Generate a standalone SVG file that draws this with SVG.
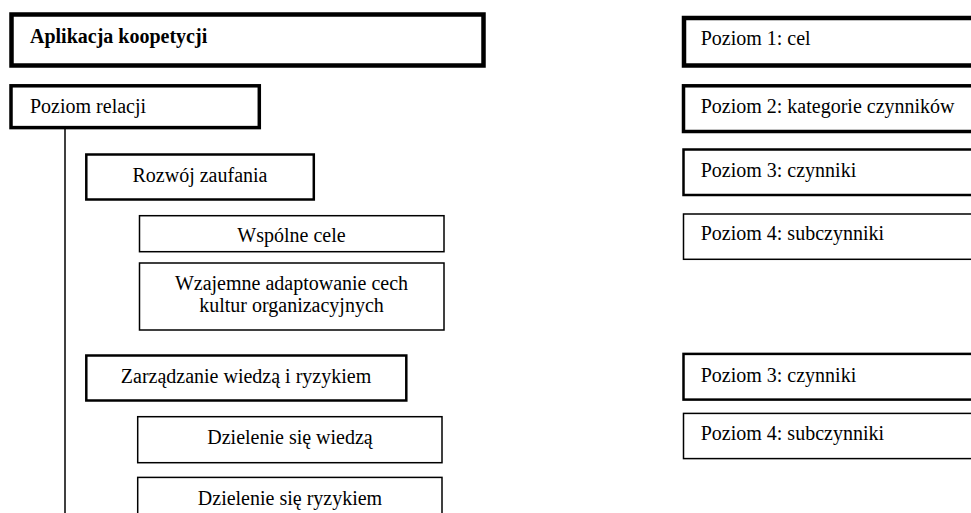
<svg xmlns="http://www.w3.org/2000/svg" width="971" height="513" viewBox="0 0 971 513">
<style>
rect{fill:#fff;stroke:#000}
text{font-family:"Liberation Serif","Times New Roman",serif;font-size:20px;fill:#000}
.c{text-anchor:middle}
.b{font-weight:bold}
.w1{stroke-width:4.5}
.w2{stroke-width:3.5}
.w3{stroke-width:2.5}
.w4{stroke-width:1.5}
</style>
<rect x="0" y="0" width="971" height="513" style="stroke:none"/>
<g id="connectors">
<line x1="65" y1="129" x2="65" y2="513" stroke="#000" stroke-width="1.5"/>
</g>
<g id="n-aplikacja"><rect class="w1" x="11.5" y="14.5" width="472" height="51"/><text class="b" x="30" y="43">Aplikacja koopetycji</text></g>
<g id="n-poziom-relacji"><rect class="w2" x="11" y="85.8" width="248.3" height="41.8"/><text x="30" y="113">Poziom relacji</text></g>
<g id="n-rozwoj"><rect class="w3" x="86.3" y="154.5" width="227.5" height="45"/><text class="c" x="200" y="182">Rozwój zaufania</text></g>
<g id="n-wspolne"><rect class="w4" x="139.5" y="215.7" width="304.5" height="36"/><text class="c" x="291.5" y="242">Wspólne cele</text></g>
<g id="n-wzajemne"><rect class="w4" x="139.5" y="263" width="304.5" height="67"/><text class="c" x="291.5" y="289.5">Wzajemne adaptowanie cech</text><text class="c" x="291.5" y="312">kultur organizacyjnych</text></g>
<g id="n-zarzadzanie"><rect class="w3" x="86.3" y="355.5" width="320" height="45"/><text class="c" x="246" y="383">Zarządzanie wiedzą i ryzykiem</text></g>
<g id="n-wiedza"><rect class="w4" x="137.7" y="416.7" width="304.3" height="46"/><text class="c" x="290" y="443.5">Dzielenie się wiedzą</text></g>
<g id="n-ryzyko"><rect class="w4" x="137.7" y="477.4" width="304.3" height="50"/><text class="c" x="290" y="505">Dzielenie się ryzykiem</text></g>
<g id="n-p1"><rect class="w1" x="684" y="18" width="300" height="47.5"/><text x="700.7" y="45">Poziom 1: cel</text></g>
<g id="n-p2"><rect class="w2" x="683.5" y="85.8" width="300" height="45.7"/><text x="700.7" y="113.3">Poziom 2: kategorie czynników</text></g>
<g id="n-p3a"><rect class="w3" x="683.5" y="149.5" width="300" height="45.5"/><text x="700.7" y="177.3">Poziom 3: czynniki</text></g>
<g id="n-p4a"><rect class="w4" x="683.5" y="214" width="300" height="45.3"/><text x="700.7" y="240">Poziom 4: subczynniki</text></g>
<g id="n-p3b"><rect class="w3" x="683.5" y="353.9" width="300" height="45.7"/><text x="700.7" y="381.7">Poziom 3: czynniki</text></g>
<g id="n-p4b"><rect class="w4" x="683.5" y="413.4" width="300" height="45.2"/><text x="700.7" y="440">Poziom 4: subczynniki</text></g>
</svg>
